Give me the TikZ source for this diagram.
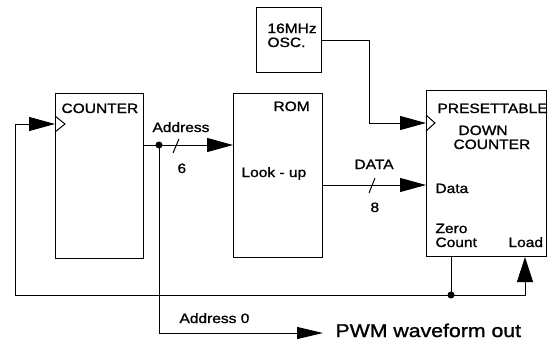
\documentclass[tikz,border=0pt]{standalone}
\usepackage{fontspec}
\setmainfont{Liberation Sans}[FakeStretch=1.15, FakeBold=1.2]
\usetikzlibrary{arrows.meta, positioning}

\begin{document}
\begin{tikzpicture}[x=1pt, y=-1pt, line width=1pt]
    \tikzstyle{blk}=[draw, rectangle, inner sep=0pt, anchor=north west]
    \tikzstyle{lbl}=[inner sep=0pt, anchor=base west, font=\fontsize{13.5}{16}\selectfont]
    \tikzstyle{dot}=[circle, fill=black, inner sep=0pt, minimum size=7pt]
    \tikzstyle{arr}=[-{Triangle[length=26pt, width=14pt]}]
    \useasboundingbox (0,0) rectangle (548,341);
    \draw (55,93) node[blk, minimum width=88pt, minimum height=165pt] (cnt) {};
    \draw (233,93) node[blk, minimum width=89pt, minimum height=164pt] (rom) {};
    \draw (256,7) node[blk, minimum width=65pt, minimum height=65pt] (osc) {};
    \draw (426,90) node[blk, minimum width=120pt, minimum height=166pt] (dc) {};
    \draw (55,116) -- (65,124) -- (55,132);
    \draw (426,115) -- (435,123) -- (426,131);
    \draw (61,113) node[lbl] (cntlbl) {COUNTER};
    \draw (273,111) node[lbl] (romlbl) {ROM};
    \draw (241,177) node[lbl] (lookup) {Look - up};
    \draw (267,33) node[lbl] (osclbl) {16MHz};
    \draw (267,47) node[lbl] (osclblb) {OSC.};
    \draw (437,113) node[lbl] (dclbl) {PRESETTABLE};
    \draw (458,135) node[lbl] (dclblb) {DOWN};
    \draw (453,149) node[lbl] (dclblc) {COUNTER};
    \draw (435,193) node[lbl] (dcdata) {Data};
    \draw (435,233) node[lbl] (zero) {Zero};
    \draw (435,247) node[lbl] (count) {Count};
    \draw (508,247) node[lbl] (load) {Load};
    \draw (152,132) node[lbl] (addr) {Address};
    \draw (177,173) node[lbl] (six) {6};
    \draw (354,169) node[lbl] (data) {DATA};
    \draw (370,212) node[lbl] (eight) {8};
    \draw (179,323) node[lbl] (addrz) {Address 0};
    \draw (335,337) node[lbl, font=\fontsize{18.5}{22}\selectfont] (pwm) {PWM waveform out};
    \coordinate (adot) at (159,145);
    \coordinate (dline) at (0,185);
    \coordinate (oclk) at (426,123);
    \coordinate (cclk) at (55,124);
    \coordinate (fbdot) at (451,295);
    \coordinate (fbl) at (15,295);
    \coordinate (ldx) at (525,0);
    \coordinate (pwmin) at (323,333);
    \draw[arr] (cnt.east |- adot) -- (rom.west |- adot);
    \draw (173,153) -- (179,139);
    \draw[arr] (rom.east |- dline) -- (dc.west |- dline);
    \draw (369,193) -- (375,178);
    \draw[arr] (osc.east) -- ++(47,0) |- (oclk);
    \draw (dc.south -| fbdot) -- (fbdot);
    \draw[arr] (fbdot) -- (fbl) |- (cclk);
    \draw[-{Triangle[length=25pt, width=16pt]}] (fbdot) -| (dc.south -| ldx);
    \draw[-{Triangle[length=26pt, width=12pt]}] (adot) |- (pwmin);
    \draw (adot) node[dot] (adotn) {};
    \draw (fbdot) node[dot] (fbdotn) {};
\end{tikzpicture}
\end{document}
